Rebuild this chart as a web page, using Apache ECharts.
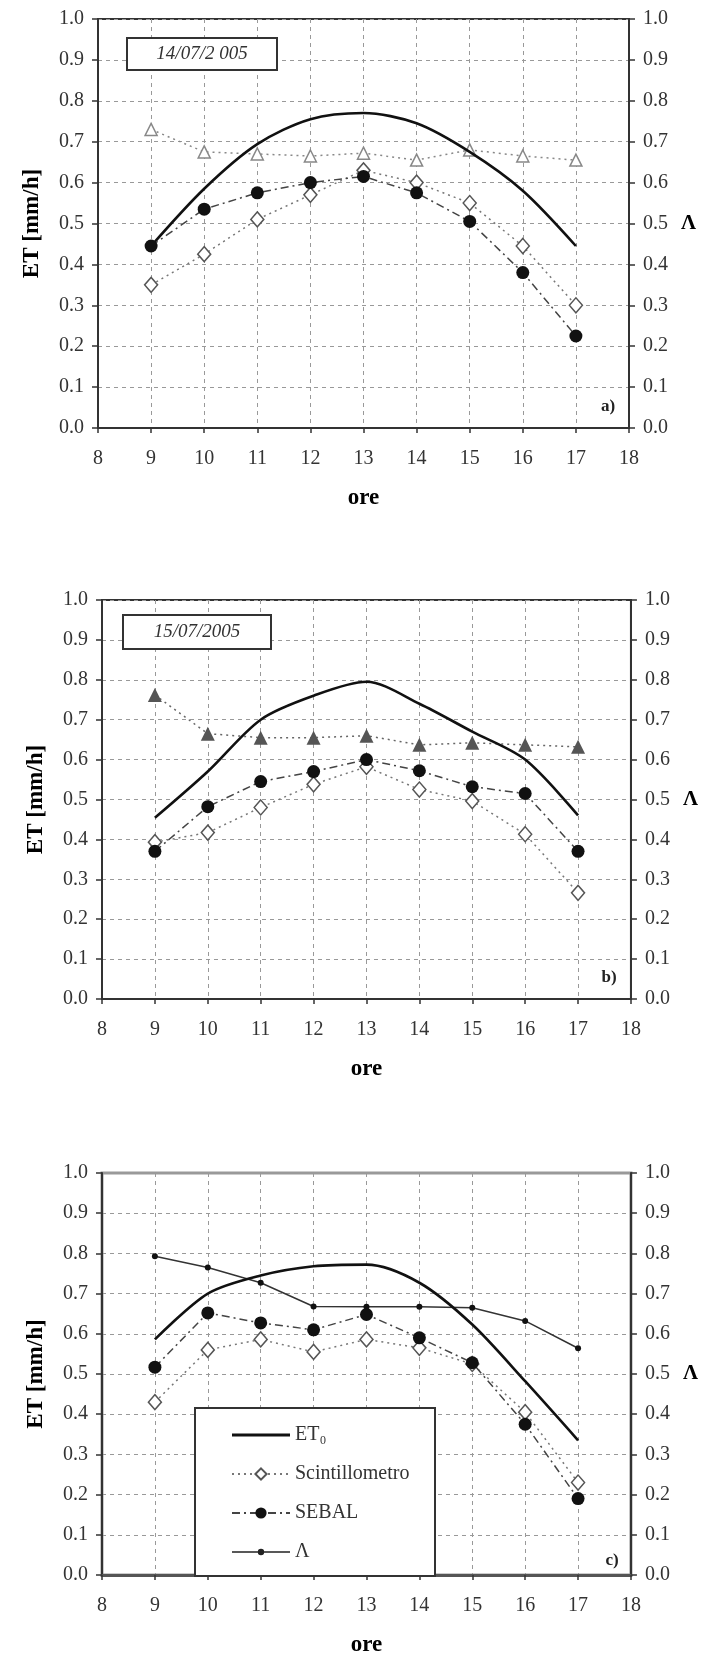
<!DOCTYPE html>
<html>
<head>
<meta charset="utf-8">
<script src="https://cdn.jsdelivr.net/npm/echarts@6/dist/echarts.min.js"></script>
<style>
  html, body { margin: 0; padding: 0; background: #fff; }
  #chart { width: 701px; height: 1658px; }
</style>
</head>
<body>
<div id="chart"></div>
<script>
// ---- data ----
const hours = [9, 10, 11, 12, 13, 14, 15, 16, 17];
const seriesNames = ['ET₀', 'Scintillometro', 'SEBAL', 'Λ'];
const panelLabels = ['a)', 'b)', 'c)'];
const dateLabels = ['14/07/2 005', '15/07/2005'];

const etA     = [0.445, 0.585, 0.694, 0.755, 0.770, 0.745, 0.675, 0.580, 0.445];
const scintA  = [0.350, 0.425, 0.510, 0.570, 0.630, 0.600, 0.550, 0.445, 0.300];
const sebalA  = [0.445, 0.535, 0.575, 0.600, 0.615, 0.575, 0.505, 0.380, 0.225];
const lambdaA = [0.730, 0.675, 0.670, 0.665, 0.672, 0.655, 0.680, 0.665, 0.655];

const etB     = [0.454, 0.570, 0.700, 0.760, 0.795, 0.740, 0.670, 0.600, 0.460];
const scintB  = [0.393, 0.417, 0.480, 0.538, 0.582, 0.525, 0.496, 0.413, 0.266];
const sebalB  = [0.370, 0.482, 0.545, 0.570, 0.600, 0.572, 0.532, 0.515, 0.370];
const lambdaB = [0.762, 0.665, 0.655, 0.655, 0.660, 0.637, 0.642, 0.637, 0.632];

const etC     = [0.586, 0.700, 0.745, 0.768, 0.772, 0.727, 0.623, 0.482, 0.335];
const scintC  = [0.430, 0.560, 0.586, 0.555, 0.586, 0.565, 0.525, 0.405, 0.230];
const sebalC  = [0.517, 0.652, 0.627, 0.610, 0.648, 0.590, 0.528, 0.375, 0.190];
const lambdaC = [0.793, 0.765, 0.727, 0.668, 0.667, 0.667, 0.665, 0.632, 0.564];

// ---- helpers ----
const pair = arr => hours.map((h, i) => [h, arr[i]]);
const SERIF = '"Liberation Serif", "DejaVu Serif", serif';

const grids = [
  { left: 98,  right: 72, top: 19,   height: 409 },
  { left: 102, right: 68, top: 600,  height: 399 },
  { left: 102, right: 64, top: 1173, height: 409 }
];

function xAxisFor(i) {
  return {
    gridIndex: i, type: 'value', min: 8, max: 18, interval: 1,
    name: 'ore', nameLocation: 'middle', nameGap: 59,
    nameTextStyle: { fontFamily: SERIF, fontWeight: 'bold', fontSize: 23, color: '#000' },
    axisLine: { onZero: false, lineStyle: { color: i === 2 ? '#555' : '#333', width: i === 2 ? 3 : 2 } },
    axisTick: { show: true, length: 5, lineStyle: { color: '#333', width: 1.5 } },
    axisLabel: { fontFamily: SERIF, fontSize: 20, color: '#333', margin: 21 },
    splitLine: { show: true, lineStyle: { color: '#999', type: [4, 4], width: 1 } }
  };
}
function yAxisFor(i, pos) {
  const left = pos === 'left';
  return {
    gridIndex: i, type: 'value', min: 0, max: 1, interval: 0.1, position: pos,
    name: left ? 'ET [mm/h]' : 'Λ',
    nameLocation: 'middle',
    nameRotate: left ? 90 : 0,
    nameGap: left ? 54 : 52,
    nameTextStyle: { fontFamily: SERIF, fontWeight: 'bold', fontSize: left ? 23 : 21, color: '#000' },
    axisLine: { show: true, lineStyle: { color: '#333', width: 2 } },
    axisTick: { show: true, length: 6, lineStyle: { color: '#333', width: 1.5 } },
    axisLabel: { fontFamily: SERIF, fontSize: 20, color: '#333', margin: 14,
                 formatter: v => v.toFixed(1) },
    splitLine: { show: left, lineStyle: { color: '#999', type: [4, 4], width: 1 } }
  };
}

const etStyle = { type: 'line', smooth: 0.3, showSymbol: false, symbol: 'none',
  lineStyle: { color: '#111', width: 2.6 }, itemStyle: { color: '#111' }, z: 3 };
const scintStyle = { type: 'line', symbol: 'diamond', symbolSize: [13, 15],
  lineStyle: { color: '#777', width: 1.5, type: [2, 4] },
  itemStyle: { color: '#fff', borderColor: '#555', borderWidth: 1.5 }, z: 4 };
const sebalStyle = { type: 'line', symbol: 'circle', symbolSize: 13,
  lineStyle: { color: '#444', width: 1.5, type: [8, 4, 2, 4] },
  itemStyle: { color: '#111' }, z: 5 };

function panelSeries(i, et, sc, se, la, suffix) {
  const lambdaStyle = i === 0
    ? { symbol: 'triangle', symbolSize: 12,
        lineStyle: { color: '#888', width: 1.5, type: [2, 4] },
        itemStyle: { color: '#fff', borderColor: '#888', borderWidth: 1.5 } }
    : i === 1
    ? { symbol: 'triangle', symbolSize: 14,
        lineStyle: { color: '#666', width: 1.5, type: [2, 4] },
        itemStyle: { color: '#555' } }
    : { symbol: 'circle', symbolSize: 6,
        lineStyle: { color: '#333', width: 1.5 },
        itemStyle: { color: '#111' } };
  return [
    Object.assign({}, etStyle, { name: seriesNames[0] + suffix, xAxisIndex: i, yAxisIndex: i * 2, data: pair(et) }),
    Object.assign({}, scintStyle, { name: seriesNames[1] + suffix, xAxisIndex: i, yAxisIndex: i * 2, data: pair(sc) }),
    Object.assign({}, sebalStyle, { name: seriesNames[2] + suffix, xAxisIndex: i, yAxisIndex: i * 2, data: pair(se) }),
    Object.assign({ type: 'line', name: seriesNames[3] + suffix, xAxisIndex: i, yAxisIndex: i * 2 + 1, data: pair(la), z: 2 }, lambdaStyle)
  ];
}

const series = [].concat(
  panelSeries(0, etA, scintA, sebalA, lambdaA, ' (a)'),
  panelSeries(1, etB, scintB, sebalB, lambdaB, ' (b)'),
  panelSeries(2, etC, scintC, sebalC, lambdaC, '')
);

// legend icon shapes (line only / line + small dot)
const ICON_ET = 'path://M0,0 M58,14 M0,5.6 L58,5.6 L58,8.4 L0,8.4 Z';
const ICON_LAMBDA = 'path://M0,0 M58,14 M0,6.3 L58,6.3 L58,7.7 L0,7.7 Z M29,3.8 A3.2,3.2 0 1,1 29,10.2 A3.2,3.2 0 1,1 29,3.8 Z';

const chart = echarts.init(document.getElementById('chart'), null, { renderer: 'canvas' });

const option = {
  animation: false,
  backgroundColor: '#fff',
  grid: grids.map((g, i) => Object.assign({ show: true, borderColor: i === 2 ? '#999' : '#333',
    borderWidth: i === 2 ? 3 : 2, backgroundColor: 'transparent' }, g)),
  xAxis: [0, 1, 2].map(xAxisFor),
  yAxis: [0, 1, 2].flatMap(i => [yAxisFor(i, 'left'), yAxisFor(i, 'right')]),
  legend: {
    data: [
      { name: seriesNames[0], icon: ICON_ET, itemStyle: { color: '#111' } },
      { name: seriesNames[1] },
      { name: seriesNames[2] },
      { name: seriesNames[3], icon: ICON_LAMBDA, itemStyle: { color: '#222' } }
    ],
    orient: 'vertical',
    left: 226, top: 1420,
    itemWidth: 58, itemHeight: 14,
    itemGap: 19,
    z: 30,
    textStyle: { fontFamily: SERIF, fontSize: 20, color: '#333' },
    selectedMode: false
  },
  graphic: [
    { type: 'rect', shape: { x: 195, y: 1408, width: 240, height: 168 },
      style: { fill: '#fff', stroke: '#333', lineWidth: 2 }, z: 10 },
    { type: 'rect', shape: { x: 127, y: 38, width: 150, height: 32 },
      style: { fill: '#fff', stroke: '#333', lineWidth: 2 }, z: 10 },
    { type: 'text', x: 202, y: 54, z: 11,
      style: { text: dateLabels[0], fontFamily: SERIF, fontStyle: 'italic', fontSize: 19,
               fill: '#333', align: 'center', verticalAlign: 'middle' } },
    { type: 'rect', shape: { x: 123, y: 615, width: 148, height: 34 },
      style: { fill: '#fff', stroke: '#333', lineWidth: 2 }, z: 10 },
    { type: 'text', x: 197, y: 632, z: 11,
      style: { text: dateLabels[1], fontFamily: SERIF, fontStyle: 'italic', fontSize: 19,
               fill: '#333', align: 'center', verticalAlign: 'middle' } },
    { type: 'text', x: 608, y: 407, z: 11,
      style: { text: panelLabels[0], fontFamily: SERIF, fontWeight: 'bold', fontSize: 17,
               fill: '#222', align: 'center', verticalAlign: 'middle' } },
    { type: 'text', x: 609, y: 978, z: 11,
      style: { text: panelLabels[1], fontFamily: SERIF, fontWeight: 'bold', fontSize: 17,
               fill: '#222', align: 'center', verticalAlign: 'middle' } },
    { type: 'text', x: 612, y: 1561, z: 11,
      style: { text: panelLabels[2], fontFamily: SERIF, fontWeight: 'bold', fontSize: 17,
               fill: '#222', align: 'center', verticalAlign: 'middle' } }
  ],
  series: series
};
chart.setOption(option);
</script>
</body>
</html>
